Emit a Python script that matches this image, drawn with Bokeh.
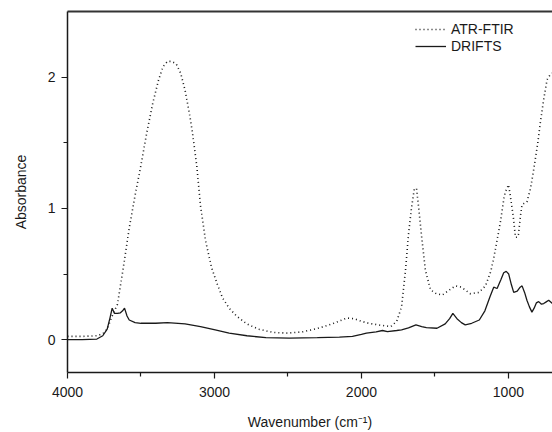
from bokeh.plotting import figure
from bokeh.models import Range1d, FixedTicker, LinearAxis, Legend, LegendItem
from bokeh.embed import file_html
from bokeh.resources import INLINE

# ---- data ----
atr_wn = [4000, 3900, 3800, 3760, 3730, 3700, 3660, 3620, 3580, 3540, 3500, 3460, 3420,
          3380, 3350, 3320, 3290, 3260, 3230, 3200, 3170, 3150, 3120, 3095, 3060, 3020,
          2980, 2946, 2900, 2850, 2780, 2700, 2600, 2500, 2400, 2300, 2200, 2100, 2050,
          2000, 1950, 1870, 1800, 1760, 1727, 1700, 1680, 1660, 1640, 1625, 1610, 1590,
          1565, 1530, 1490, 1450, 1400, 1360, 1320, 1259, 1200, 1156, 1120, 1100, 1070,
          1054, 1030, 1020, 1010, 1000, 990, 975, 966, 952, 940, 932, 915, 907, 890, 874,
          850, 830, 800, 782, 760, 737, 715, 700]
atr_abs = [0.025, 0.025, 0.03, 0.045, 0.08, 0.17, 0.27, 0.55, 0.85, 1.10, 1.33, 1.58, 1.80,
           1.98, 2.08, 2.12, 2.12, 2.10, 2.03, 1.90, 1.72, 1.58, 1.32, 1.02, 0.75, 0.55,
           0.42, 0.32, 0.24, 0.18, 0.12, 0.08, 0.055, 0.05, 0.06, 0.085, 0.12, 0.165, 0.16,
           0.14, 0.125, 0.11, 0.10, 0.14, 0.25, 0.53, 0.80, 1.00, 1.15, 1.15, 1.00, 0.78,
           0.53, 0.38, 0.35, 0.34, 0.38, 0.41, 0.40, 0.35, 0.36, 0.41, 0.52, 0.62, 0.80,
           0.90, 1.08, 1.13, 1.15, 1.18, 1.12, 1.00, 0.93, 0.78, 0.78, 0.80, 0.97, 1.03, 1.04, 1.05,
           1.15, 1.28, 1.50, 1.66, 1.83, 1.98, 2.02, 2.03]

drifts_wn = [4000, 3900, 3800, 3760, 3730, 3710, 3696, 3680, 3660, 3640, 3625, 3612, 3595,
             3580, 3540, 3500, 3400, 3320, 3200, 3095, 2995, 2900, 2779, 2650, 2492, 2300,
             2150, 2061, 2000, 1966, 1900, 1857, 1823, 1760, 1727, 1680, 1629, 1590, 1558,
             1486, 1430, 1400, 1378, 1350, 1320, 1294, 1250, 1198, 1160, 1126, 1100, 1077,
             1050, 1032, 1015, 998, 980, 964, 940, 920, 907, 890, 874, 857, 840, 825, 810,
             794, 775, 760, 740, 726, 700]
drifts_abs = [0.0, 0.0, 0.005, 0.03, 0.08, 0.17, 0.24, 0.20, 0.20, 0.205, 0.22, 0.24, 0.18,
              0.15, 0.13, 0.125, 0.125, 0.13, 0.12, 0.10, 0.075, 0.05, 0.03, 0.015, 0.012, 0.015,
              0.02, 0.025, 0.04, 0.05, 0.06, 0.07, 0.062, 0.07, 0.075, 0.09, 0.113, 0.10, 0.092,
              0.087, 0.12, 0.16, 0.20, 0.16, 0.13, 0.113, 0.125, 0.15, 0.22, 0.325, 0.40, 0.39,
              0.46, 0.51, 0.52, 0.50, 0.42, 0.36, 0.37, 0.40, 0.41, 0.36, 0.30, 0.25, 0.21, 0.24, 0.28,
              0.29, 0.27, 0.275, 0.29, 0.30, 0.275]

x_ticks = [4000, 3000, 2000, 1000]
x_minor = [3500, 2500, 1500]
y_ticks = [0, 1, 2]
y_minor = [0.5, 1.5]
series_labels = ["ATR-FTIR", "DRIFTS"]

FONT = "Liberation Sans"
INK = "#1a1a1a"

p = figure(width=552, height=432, output_backend="svg", toolbar_location=None,
           x_range=Range1d(4000, 700), y_range=Range1d(-0.25, 2.5),
           min_border_left=67, min_border_right=0, min_border_top=11, min_border_bottom=53)
p.outline_line_color = None
p.grid.visible = False
p.background_fill_color = "white"

r1 = p.line(atr_wn, atr_abs, line_color=INK, line_width=1.6, line_dash="1 3")
r2 = p.line(drifts_wn, drifts_abs, line_color=INK, line_width=1.3)

for ax in (p.xaxis[0], p.yaxis[0]):
    ax.axis_line_color = INK
    ax.axis_line_width = 1.5
    ax.major_tick_in = 0
    ax.major_tick_out = 6
    ax.minor_tick_in = 0
    ax.minor_tick_out = 4
    ax.major_tick_line_color = INK
    ax.minor_tick_line_color = INK
    ax.major_tick_line_width = 1.2
    ax.minor_tick_line_width = 1.2
    ax.major_label_text_font = FONT
    ax.major_label_text_font_size = "14px"
    ax.major_label_text_color = INK
    ax.axis_label_text_font = FONT
    ax.axis_label_text_font_size = "14px"
    ax.axis_label_text_font_style = "normal"
    ax.axis_label_text_color = INK

p.xaxis[0].ticker = FixedTicker(ticks=x_ticks, minor_ticks=x_minor)
p.yaxis[0].ticker = FixedTicker(ticks=y_ticks, minor_ticks=y_minor)
p.xaxis[0].axis_label = "Wavenumber (cm\u207b\u00b9)"
p.yaxis[0].axis_label = "Absorbance"
p.xaxis[0].major_label_standoff = 8
p.xaxis[0].axis_label_standoff = 14
p.yaxis[0].major_label_standoff = 6
p.yaxis[0].axis_label_standoff = 16

top = LinearAxis(major_tick_line_color=None, minor_tick_line_color=None,
                 major_label_text_font_size="0px", axis_line_color="#333333", axis_line_width=2)
top.ticker = FixedTicker(ticks=[])
p.add_layout(top, "above")

legend = Legend(items=[LegendItem(label=series_labels[0], renderers=[r1]),
                       LegendItem(label=series_labels[1], renderers=[r2])],
                location=(348, 318), border_line_color=None, background_fill_alpha=0,
                label_text_font=FONT, label_text_font_size="14px", label_text_color=INK,
                glyph_width=31, glyph_height=16, label_height=16, label_standoff=5,
                spacing=1, padding=0, margin=0)
p.add_layout(legend, "center")

open("out.html", "w").write(file_html(p, INLINE))
